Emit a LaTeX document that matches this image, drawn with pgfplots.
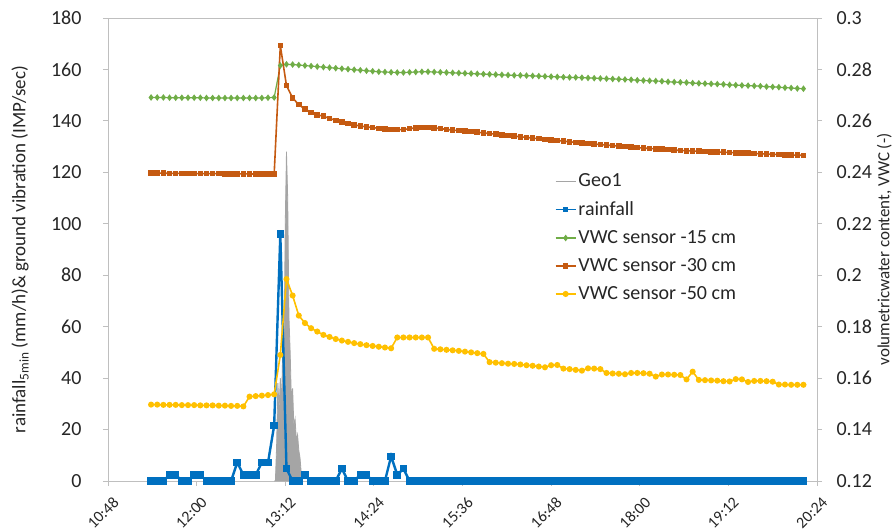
\documentclass[border=0pt]{standalone}
\usepackage{pgfplots}
\pgfplotsset{compat=1.18}
\usepackage{pgfplotstable}
\usepackage{fontspec}
\setmainfont{Carlito}
\definecolor{cblue}{HTML}{0070C0}
\definecolor{corange}{HTML}{C55A11}
\definecolor{cgreen}{HTML}{70AD47}
\definecolor{cyellow}{HTML}{FFC000}
\definecolor{cgray}{HTML}{A5A5A5}
\definecolor{axgray}{HTML}{BFBFBF}
\definecolor{txt}{HTML}{262626}

\pgfplotstableread{
t rain v15 v30 v50
683 0 0.2691 0.2397 0.1497
688 0 0.2691 0.2397 0.1497
693 0 0.2691 0.2397 0.1496
698 2.4 0.2690 0.2396 0.1496
703 2.4 0.2690 0.2396 0.1496
708 0 0.2690 0.2396 0.1495
713 0 0.2690 0.2396 0.1495
718 2.4 0.2690 0.2395 0.1495
723 2.4 0.2690 0.2395 0.1494
728 0 0.2689 0.2395 0.1494
733 0 0.2689 0.2395 0.1494
738 0 0.2689 0.2395 0.1493
743 0 0.2689 0.2394 0.1493
748 0 0.2689 0.2394 0.1492
753 7.2 0.2689 0.2394 0.1492
758 2.4 0.2689 0.2394 0.1490
763 2.4 0.2689 0.2394 0.1528
768 2.4 0.2689 0.2393 0.1530
773 7.2 0.2689 0.2393 0.1532
778 7.2 0.2690 0.2393 0.1534
783 21.6 0.2691 0.2393 0.1537
788 96 0.2815 0.2893 0.1690
793 4.8 0.2820 0.2737 0.1985
798 0 0.2819 0.2689 0.1921
803 0 0.2817 0.2663 0.1843
808 2.4 0.2815 0.2646 0.1814
813 0 0.2813 0.2633 0.1794
818 0 0.2811 0.2624 0.1781
823 0 0.2809 0.2618 0.1768
828 0 0.2807 0.2610 0.1760
833 0 0.2805 0.2602 0.1752
838 4.8 0.2803 0.2596 0.1746
843 0 0.2801 0.2590 0.1741
848 0 0.2799 0.2585 0.1736
853 2.4 0.2797 0.2580 0.1732
858 2.4 0.2795 0.2577 0.1728
863 0 0.2793 0.2574 0.1725
868 0 0.2791 0.2571 0.1722
873 0 0.2790 0.2569 0.1719
878 9.6 0.2789 0.2567 0.1716
883 2.4 0.2788 0.2566 0.1758
888 4.8 0.2788 0.2566 0.1758
893 0 0.2789 0.2570 0.1758
898 0 0.2790 0.2573 0.1758
903 0 0.2791 0.2574 0.1758
908 0 0.2791 0.2574 0.1758
913 0 0.2790 0.2573 0.1714
918 0 0.2789 0.2570 0.1712
923 0 0.2788 0.2567 0.1710
928 0 0.2787 0.2564 0.1708
933 0 0.2786 0.2562 0.1706
938 0 0.2785 0.2560 0.1703
943 0 0.2784 0.2558 0.1700
948 0 0.2783 0.2556 0.1697
953 0 0.2782 0.2553 0.1694
958 0 0.2781 0.2551 0.1662
963 0 0.2780 0.2548 0.1660
968 0 0.2779 0.2546 0.1658
973 0 0.2778 0.2543 0.1656
978 0 0.2777 0.2541 0.1655
983 0 0.2777 0.2538 0.1653
988 0 0.2776 0.2536 0.1650
993 0 0.2775 0.2533 0.1648
998 0 0.2774 0.2531 0.1645
1003 0 0.2773 0.2528 0.1642
1008 0 0.2772 0.2526 0.1650
1013 0 0.2771 0.2524 0.1651
1018 0 0.2770 0.2521 0.1637
1023 0 0.2769 0.2519 0.1635
1028 0 0.2769 0.2516 0.1632
1033 0 0.2768 0.2514 0.1629
1038 0 0.2767 0.2512 0.1638
1043 0 0.2766 0.2510 0.1637
1048 0 0.2765 0.2508 0.1635
1053 0 0.2764 0.2506 0.1620
1058 0 0.2763 0.2504 0.1618
1063 0 0.2762 0.2502 0.1617
1068 0 0.2761 0.2500 0.1615
1073 0 0.2760 0.2498 0.1620
1078 0 0.2758 0.2496 0.1620
1083 0 0.2757 0.2494 0.1619
1088 0 0.2756 0.2493 0.1617
1093 0 0.2755 0.2491 0.1606
1098 0 0.2754 0.2490 0.1614
1103 0 0.2752 0.2488 0.1614
1108 0 0.2751 0.2487 0.1613
1113 0 0.2750 0.2485 0.1612
1118 0 0.2749 0.2484 0.1595
1123 0 0.2747 0.2483 0.1625
1128 0 0.2746 0.2482 0.1593
1133 0 0.2745 0.2481 0.1592
1138 0 0.2744 0.2480 0.1591
1143 0 0.2743 0.2479 0.1590
1148 0 0.2742 0.2478 0.1588
1153 0 0.2740 0.2477 0.1587
1158 0 0.2739 0.2476 0.1596
1163 0 0.2738 0.2475 0.1595
1168 0 0.2737 0.2474 0.1585
1173 0 0.2736 0.2473 0.1589
1178 0 0.2735 0.2472 0.1589
1183 0 0.2733 0.2471 0.1588
1188 0 0.2732 0.2470 0.1586
1193 0 0.2731 0.2469 0.1575
1198 0 0.2729 0.2468 0.1575
1203 0 0.2728 0.2467 0.1574
1208 0 0.2726 0.2467 0.1574
1213 0 0.2725 0.2466 0.1574
}\datatab

\pgfplotstableread{
t geo
783 0
784 0
785 14
786 38
787 28
788 40
789 30
790 52
791 48
792 100
793 128
794 110
795 64
796 50
797 31
798 36
799 21
800 24
801 16
802 18
803 12
804 9
805 3
806 0
}\geotab

\newcommand{\fs}{\fontsize{20}{24}\selectfont}

\begin{document}
\begin{tikzpicture}
\path[use as bounding box] (-108pt,-51pt) rectangle (787pt,481pt);
\pgfplotsset{
  common/.style={
    width=709pt, height=463pt, scale only axis,
    xmin=648, xmax=1224,
    axis line style={draw=axgray, line width=0.8pt, -},
    tick style={draw=axgray, line width=0.8pt},
    major tick length=5pt, tick align=outside,
    tick label style={font=\fs, text=txt},
    label style={font=\fontsize{19}{23}\selectfont, text=txt},
    clip=false,
  }
}
\begin{axis}[common,
  ymin=0, ymax=180,
  xtick pos=bottom, ytick pos=left,
  xtick={648,720,792,864,936,1008,1080,1152,1224},
  xticklabels={10:48,12:00,13:12,14:24,15:36,16:48,18:00,19:12,20:24},
  x tick label style={xshift=4pt, yshift=-5pt, rotate=45, anchor=north east, font=\fontsize{16}{19}\selectfont},
  ytick={0,20,...,180},
  yticklabels={0,20,40,60,80,100,120,140,160,180},
  y tick label style={xshift=-18pt},
  ylabel={rainfall\textsubscript{5min} (mm/h)\& ground vibration (IMP/sec)},
  ylabel style={at={(axis description cs:-0.124,0.5)}, anchor=center},
]
\addplot[draw=cgray, fill=cgray, line width=0.8pt] table[x=t, y=geo] {\geotab} \closedcycle;
\addplot[cblue, line width=2.4pt, mark=square*, mark size=2.6pt, mark options={solid}] table[x=t, y=rain] {\datatab};
\end{axis}
\begin{axis}[common,
  ymin=0.12, ymax=0.3,
  axis x line=none, axis y line*=right,
  ytick={0.12,0.14,0.16,0.18,0.2,0.22,0.24,0.26,0.28,0.3},
  yticklabels={0.12,0.14,0.16,0.18,0.2,0.22,0.24,0.26,0.28,0.3},
  y tick label style={xshift=11pt},
  ylabel={volumetricwater content, VWC (-)},
  ylabel style={at={(axis description cs:1.095,0.5)}, anchor=center, font=\fontsize{17}{20}\selectfont},
  legend style={at={(axis description cs:0.630,0.668)}, anchor=north west, draw=none, fill=none,
    font=\fs, text=txt, row sep=9.5pt, inner sep=0pt},
  legend cell align=left,
  legend image code/.code={\draw[mark repeat=2, mark phase=2] plot coordinates {(0pt,0pt) (10pt,0pt) (20pt,0pt)};},
]
\addlegendimage{cgray, line width=1pt}
\addlegendentry{Geo1}
\addlegendimage{cblue, line width=1.6pt, mark=square*, mark size=2pt}
\addlegendentry{rainfall}
\addplot[cgreen, line width=1.2pt, mark=diamond*, mark size=2.4pt] table[x=t, y=v15] {\datatab};
\addlegendentry{VWC sensor -15 cm}
\addplot[corange, line width=1.6pt, mark=square*, mark size=2pt] table[x=t, y=v30] {\datatab};
\addlegendentry{VWC sensor -30 cm}
\addplot[cyellow, line width=1.6pt, mark=*, mark size=2.2pt] table[x=t, y=v50] {\datatab};
\addlegendentry{VWC sensor -50 cm}
\end{axis}
\end{tikzpicture}
\end{document}
